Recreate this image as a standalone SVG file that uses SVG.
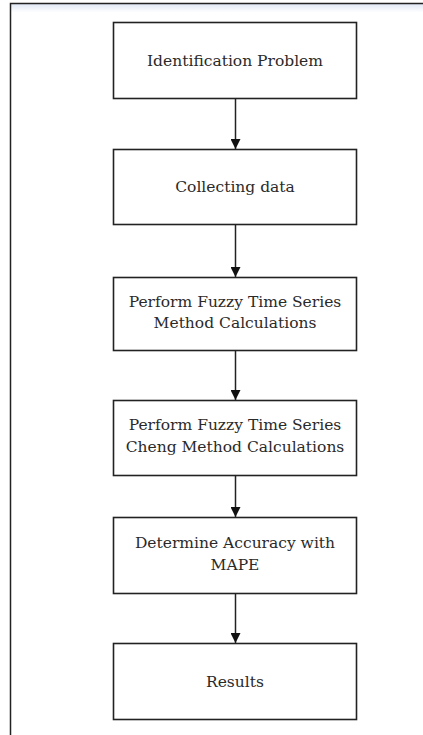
<svg xmlns="http://www.w3.org/2000/svg" width="423" height="735" viewBox="0 0 423 735">
<defs>
<linearGradient id="sh" x1="0" y1="0" x2="0" y2="1">
<stop offset="0" stop-color="#dfe8f5"/>
<stop offset="1" stop-color="#ffffff"/>
</linearGradient>
<marker id="ah" markerWidth="10" markerHeight="10" refX="10" refY="5" orient="auto" markerUnits="userSpaceOnUse">
<path d="M0,0 L10,5 L0,10 Z" fill="#111"/>
</marker>
<style>
.box{fill:#fff;stroke:#222;stroke-width:1.6}
.t{font-family:"DejaVu Serif","Liberation Serif",serif;font-size:15.5px;fill:#2a2a2a;text-anchor:middle}
.c{stroke:#222;stroke-width:1.5;fill:none;marker-end:url(#ah)}
</style>
</defs>
<rect x="0" y="0" width="423" height="735" fill="#fff"/>
<rect x="10.5" y="3.5" width="413" height="9" fill="url(#sh)"/>
<path d="M10.5,735 L10.5,3.5 L423,3.5" fill="none" stroke="#222" stroke-width="1.5"/>
<g id="connectors">
<line class="c" x1="235.5" y1="98" x2="235.5" y2="149"/>
<line class="c" x1="235.5" y1="225" x2="235.5" y2="277"/>
<line class="c" x1="235.5" y1="350" x2="235.5" y2="400"/>
<line class="c" x1="235.5" y1="476" x2="235.5" y2="517"/>
<line class="c" x1="235.5" y1="593" x2="235.5" y2="643"/>
</g>
<g id="n1"><rect class="box" x="113.5" y="22.5" width="243" height="76"/><text class="t" x="235" y="66">Identification Problem</text></g>
<g id="n2"><rect class="box" x="113.5" y="149.5" width="243" height="75"/><text class="t" x="235" y="192">Collecting data</text></g>
<g id="n3"><rect class="box" x="113.5" y="277.5" width="243" height="73"/><text class="t" x="235" y="307">Perform Fuzzy Time Series</text><text class="t" x="235" y="328">Method Calculations</text></g>
<g id="n4"><rect class="box" x="113.5" y="400.5" width="243" height="75"/><text class="t" x="235" y="430">Perform Fuzzy Time Series</text><text class="t" x="235" y="452">Cheng Method Calculations</text></g>
<g id="n5"><rect class="box" x="113.5" y="517.5" width="243" height="76"/><text class="t" x="235" y="548">Determine Accuracy with</text><text class="t" x="235" y="570">MAPE</text></g>
<g id="n6"><rect class="box" x="113.5" y="643.5" width="243" height="76"/><text class="t" x="235" y="687">Results</text></g>
</svg>
